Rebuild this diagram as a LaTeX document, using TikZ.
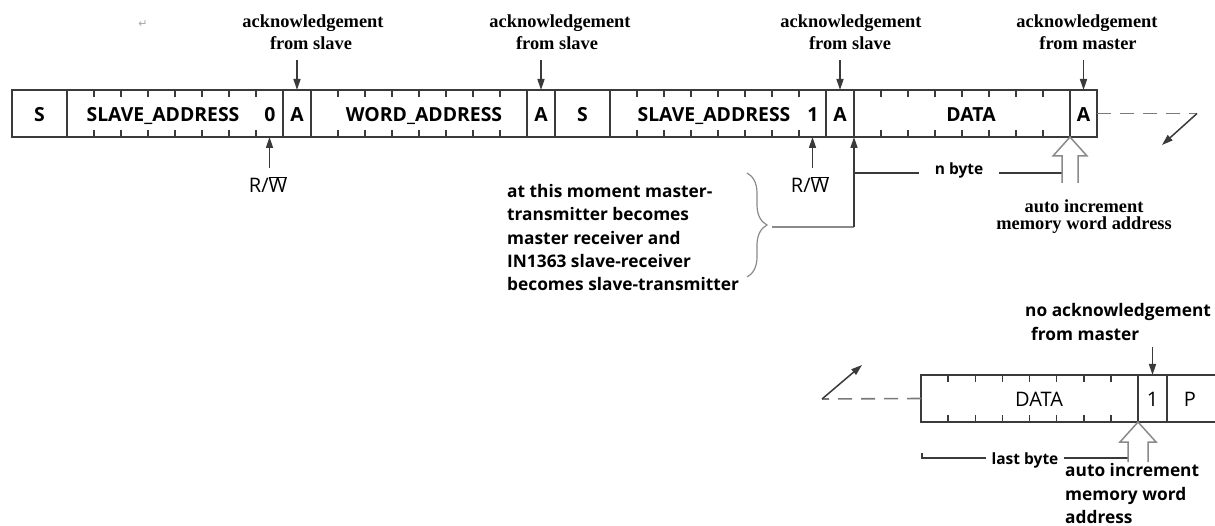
\documentclass[tikz,border=0pt]{standalone}
\usepackage{fontspec}
\newfontfamily\osans{Open Sans}
\newfontfamily\tms{Liberation Serif}
\newfontfamily\dejavu{DejaVu Sans}
\usetikzlibrary{arrows.meta,calc,decorations.pathreplacing}
\definecolor{framec}{HTML}{3A3A3A}
\definecolor{grayl}{HTML}{8A8A8A}
\definecolor{dashc}{HTML}{7A7A7A}
\tikzset{
 cell/.style={draw=framec, line width=1.9pt, minimum height=47pt, inner sep=0pt, outer sep=0pt, anchor=west, text height=16pt, text depth=0pt, font=\osans\bfseries\fontsize{19.4}{20}\selectfont},
 cellr/.style={cell, font=\osans\fontsize{20}{20}\selectfont},
 btxt/.style={anchor=base, inner sep=0pt, font=\osans\bfseries\fontsize{19.4}{20}\selectfont},
 rtxt/.style={anchor=base, inner sep=0pt, font=\osans\fontsize{20}{20}\selectfont},
 ack/.style={anchor=base, inner sep=0pt, font=\tms\bfseries\fontsize{18.4}{22}\selectfont},
 lbl/.style={anchor=base west, inner sep=0pt, font=\osans\bfseries\fontsize{17.3}{22}\selectfont},
 smalltxt/.style={anchor=base, inner ysep=0pt, font=\osans\bfseries\fontsize{15.5}{18}\selectfont},
 tickline/.style={draw=framec, line width=1.5pt},
 arr/.style={draw=framec, line width=1.5pt, -{Triangle[length=11pt,width=7pt]}},
 hollow/.style={draw=grayl, line width=1.5pt, line join=miter},
 dashline/.style={draw=dashc, line width=1.6pt, dash pattern=on 14pt off 9pt},
 bline/.style={draw=framec, line width=1.4pt},
 graybline/.style={draw=grayl, line width=1.3pt},
}
\begin{document}
\begin{tikzpicture}[x=1pt,y=-1pt]
\useasboundingbox (0,0) rectangle (1215,526);
\fill[white] (0,0) rectangle (1215,526);

% ---------- upper frame ----------
\node[cell, minimum width=55pt]  (s1)  at (12,113.5)  {S};
\node[cell, minimum width=216pt] (sa1) at (67,113.5)  {};
\node[cell, minimum width=28pt]  (a1)  at (283,113.5) {A};
\node[cell, minimum width=216pt] (wa)  at (311,113.5) {};
\node[cell, minimum width=28pt]  (a2)  at (527,113.5) {A};
\node[cell, minimum width=55pt]  (s2)  at (555,113.5) {S};
\node[cell, minimum width=216pt] (sa2) at (610,113.5) {};
\node[cell, minimum width=28pt]  (a3)  at (826,113.5) {A};
\node[cell, minimum width=216pt] (d1)  at (854,113.5) {};
\node[cell, minimum width=27pt]  (a4)  at (1070,113.5) {A};

\node[btxt] (sa1t) at (163,121.5) {SLAVE\_ADDRESS};
\node[btxt] (sa1b) at (270,121.5) {0};
\node[btxt] (wat)  at (424,121.5) {WORD\_ADDRESS};
\node[btxt] (sa2t) at (714,121.5) {SLAVE\_ADDRESS};
\node[btxt] (sa2b) at (813,121.5) {1};
\node[btxt] (d1t)  at (971,121.5) {DATA};

\foreach \b in {sa1,wa,sa2,d1}{
  \foreach \k in {1,...,7}{
    \draw[tickline] ($(\b.north west)+(27*\k,0)$) -- ++(0,7);
    \draw[tickline] ($(\b.south west)+(27*\k,0)$) -- ++(0,-7);
  }
}

% ---------- acknowledgement labels ----------
\node[ack] (ack1a) at (313,28) {acknowledgement};
\node[ack] (ack1b) at (311,50) {from slave};
\node[ack] (ack2a) at (560,28) {acknowledgement};
\node[ack] (ack2b) at (557,50) {from slave};
\node[ack] (ack3a) at (851,28) {acknowledgement};
\node[ack] (ack3b) at (850,50) {from slave};
\node[ack] (ack4a) at (1087,28) {acknowledgement};
\node[ack] (ack4b) at (1088,50) {from master};

\coordinate (ak1) at ($(a1.north)+(0,-30)$);
\coordinate (ak2) at ($(a2.north)+(0,-30)$);
\coordinate (ak3) at ($(a3.north)+(0,-30)$);
\coordinate (ak4) at ($(a4.north)+(0,-30)$);
\draw[arr] (ak1) -- (a1.north);
\draw[arr] (ak2) -- (a2.north);
\draw[arr] (ak3) -- (a3.north);
\draw[arr] (ak4) -- (a4.north);

\node[inner sep=0pt, text=gray!70, font=\dejavu\fontsize{11}{11}\selectfont] (ret) at (143,24) {↵};

% ---------- R/W ----------
\node[rtxt] (rw1) at (268,193) {R/$\overline{\hbox{W}}$};
\node[rtxt] (rw2) at (810,193) {R/$\overline{\hbox{W}}$};
\coordinate (rw1t) at ($(sa1.south east)+(-13.5,31)$);
\coordinate (rw2t) at ($(sa2.south east)+(-13.5,31)$);
\draw[arr] (rw1t) -- ($(sa1.south east)+(-13.5,0)$);
\draw[arr] (rw2t) -- ($(sa2.south east)+(-13.5,0)$);

% ---------- mode change note ----------
\node[lbl] (t1) at (507,198) {at this moment master-};
\node[lbl] (t2) at (507,221) {transmitter becomes};
\node[lbl] (t3) at (507,245) {master receiver and};
\node[lbl] (t4) at (507,268) {IN1363 slave-receiver};
\node[lbl] (t5) at (507,291) {becomes slave-transmitter};

\coordinate (brtop) at (747,173);
\coordinate (brbot) at (747,277);
\draw[graybline, line width=1.2pt, decorate, decoration={brace, amplitude=20pt}] (brtop) -- (brbot);
\coordinate (btip) at (772,227);
\coordinate (bend) at ($(d1.south west)+(0,90)$);
\draw[graybline] (btip) -- (bend);
\draw[arr] (bend) -- (d1.south west);

% ---------- n byte ----------
\coordinate (nbl) at ($(d1.south west)+(0,36)$);
\coordinate (nbr) at ($(d1.south east)+(-8,36)$);
\node[smalltxt, inner xsep=16pt] (nbyte) at (959,175) {n byte};
\draw[bline] (nbl) -- (nbl -| nbyte.west);
\draw[bline] (nbyte.east |- nbr) -- (nbr);

% hollow arrow (upper)
\draw[hollow] ($(d1.south east)+(-8,46)$) -- ++(0,-27) -- ++(-9,0) -- (d1.south east) -- ++(17,19) -- ++(-9,0) -- ++(0,27);
\node[ack] (ai1) at (1084,213) {auto increment};
\node[ack] (ai2) at (1084,230) {memory word address};

% continuation (upper)
\coordinate (dr1) at (1197,113.5);
\coordinate (dr2) at (1162,145);
\draw[dashline] (a4.east) -- (dr1);
\draw[arr] (dr1) -- (dr2);

% ---------- lower frame ----------
\node[cellr, minimum width=217pt] (d2)  at (921,398.5) {};
\node[cellr, minimum width=29pt]  (one) at (1138,398.5) {1};
\node[cellr, minimum width=60pt]  (p)   at (1167,398.5) {};
\node[rtxt] (d2t) at (1039,406.5) {DATA};
\node[rtxt] (pt)  at (1190,406.5) {P};
\foreach \k in {1,...,7}{
  \draw[tickline] ($(d2.north west)+(27.125*\k,0)$) -- ++(0,7);
  \draw[tickline] ($(d2.south west)+(27.125*\k,0)$) -- ++(0,-7);
}

\node[lbl] (na1) at (1025,317) {no acknowledgement};
\node[lbl] (na2) at (1031,341) {from master};
\coordinate (nak) at ($(one.north)+(0,-28)$);
\draw[arr] (nak) -- (one.north);

% continuation (lower)
\coordinate (dl) at (822,399);
\coordinate (dl2) at (862,365);
\draw[dashline] (d2.west) -- (dl);
\draw[arr] (dl) -- (dl2);

% last byte
\coordinate (lb0) at (922,453);
\coordinate (lb1) at (922,458);
\coordinate (lb2) at ($(d2.south east)+(-10,36)$);
\node[smalltxt, inner xsep=5pt] (lastb) at (1025,464) {last byte};
\draw[bline] (lb0) -- (lb1) -- (lb1 -| lastb.west);
\draw[bline] (lastb.east |- lb1) -- (lb2);

% hollow arrow (lower)
\draw[hollow] ($(d2.south east)+(-10,40)$) -- ++(0,-20) -- ++(-8,0) -- (d2.south east) -- ++(18,20) -- ++(-8,0) -- ++(0,20);
\node[lbl] (ai3) at (1065,476) {auto increment};
\node[lbl] (ai4) at (1065,500) {memory word};
\node[lbl] (ai5) at (1065,523) {address};
\end{tikzpicture}
\end{document}
